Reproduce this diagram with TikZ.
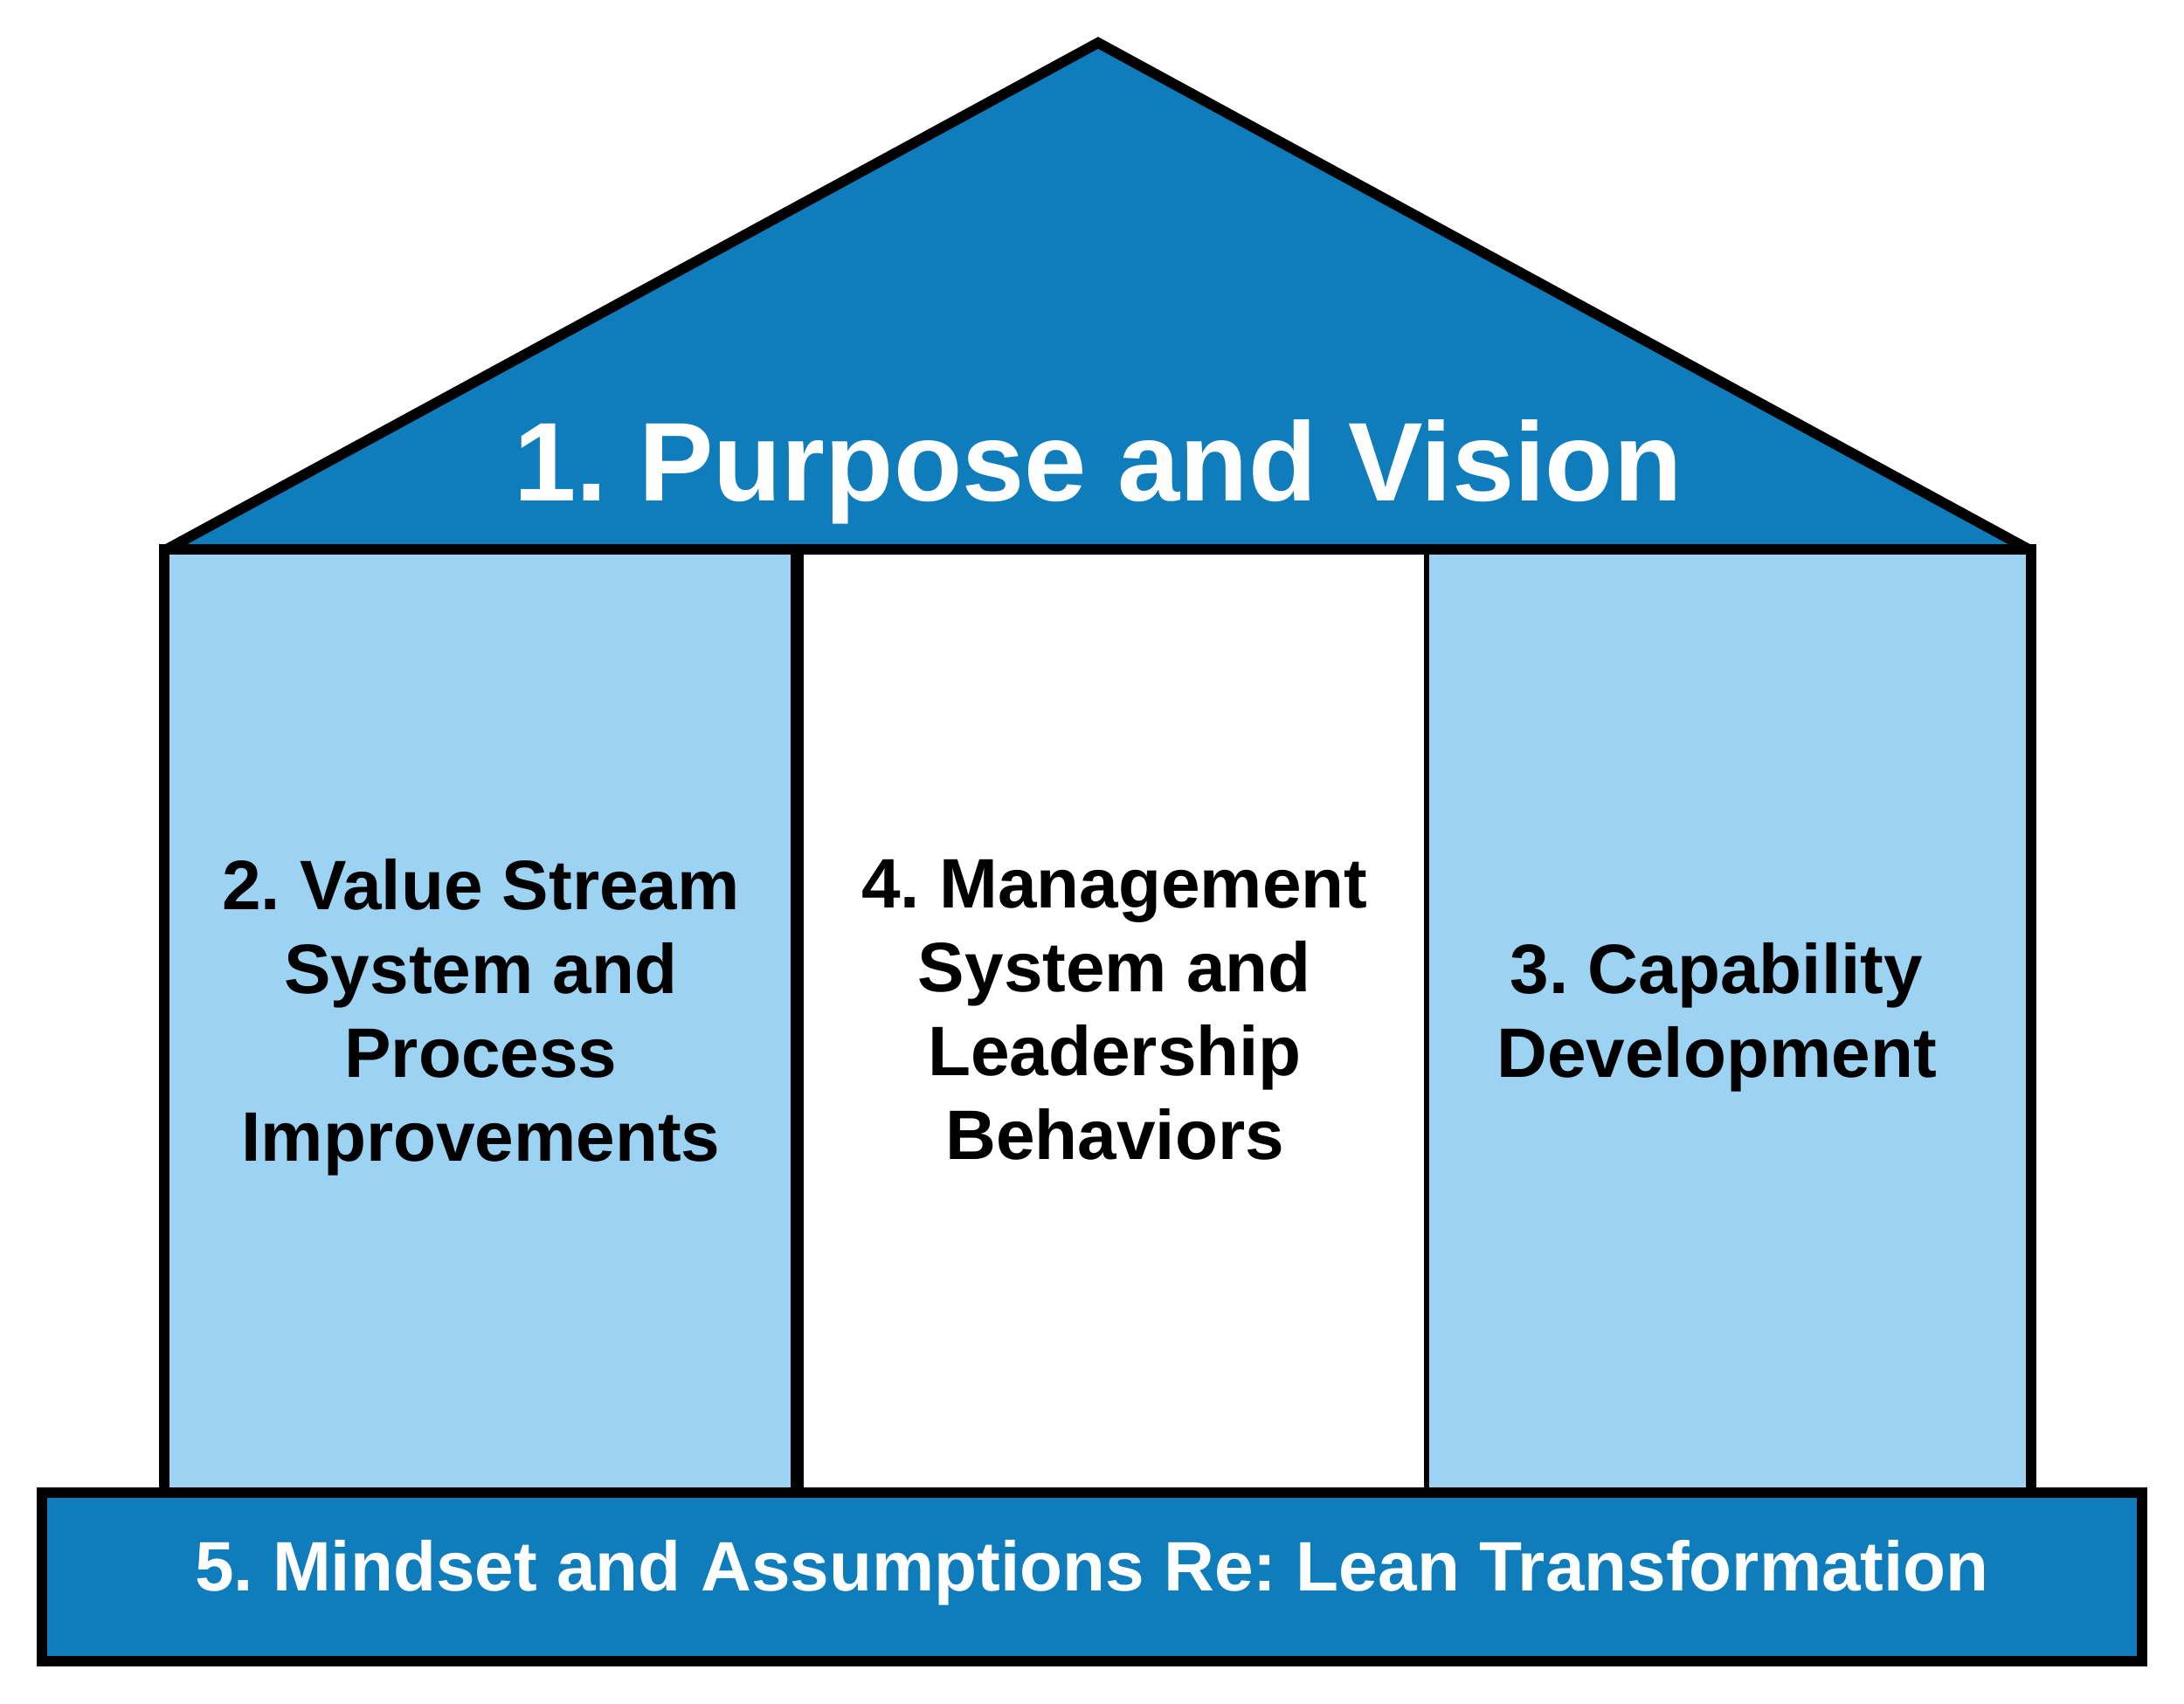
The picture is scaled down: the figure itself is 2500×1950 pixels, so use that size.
\documentclass[tikz,border=0pt]{standalone}
\usepackage{fontspec}
\setmainfont{Liberation Sans}
\usepackage{xcolor}
\definecolor{roofblue}{RGB}{15,124,187}
\definecolor{pillarblue}{RGB}{157,211,242}
\frenchspacing

\begin{document}
\begin{tikzpicture}[x=0.01cm,y=-0.01cm]
\useasboundingbox (0,0) rectangle (2500,1950);
\tikzstyle{thickline}=[line width=3.41pt,color=black]
\tikzstyle{pillar}=[fill=pillarblue,minimum height=10.79cm,inner sep=0pt]
\tikzstyle{pillartext}=[align=center,inner sep=0pt,font=\fontsize{22.8pt}{27.3pt}\selectfont\bfseries]

\coordinate (eaveL) at (189,630);
\coordinate (apex) at (1257,49);
\coordinate (eaveR) at (2324,630);
\fill[roofblue] (eaveL) -- (apex) -- (eaveR) -- cycle;
\draw[thickline] (eaveL) -- (apex) -- (eaveR);
\node[text=white,anchor=base,font=\fontsize{36.45pt}{43pt}\selectfont\bfseries] (p1) at (1257,573) {1. Purpose and Vision};

\node[pillar,minimum width=7.23cm] (p2) at (550.5,1169.5) {};
\node[pillar,fill=white,minimum width=7.22cm] (p4) at (1273,1169.5) {};
\node[pillar,minimum width=6.90cm] (p3) at (1979,1169.5) {};
\node[pillartext] (t2) at (550.5,1164.5) {2. Value Stream\\System and\\Process\\Improvements};
\node[pillartext] (t4) at (1276,1156.5) {4. Management\\System and\\Leadership\\Behaviors};
\node[pillartext] (t3) at (1965,1164.5) {3. Capability\\Development};

\draw[thickline] (p2.north west) rectangle (p3.south east);
\draw[line width=4.27pt] (p2.north east) to (p2.south east);
\draw[line width=1.71pt] (p3.north west) to (p3.south west);

\node[draw,thickline,fill=roofblue,minimum width=24.03cm,minimum height=1.925cm,inner sep=0pt] (p5) at (1250,1805.25) {};
\node[text=white,anchor=base,font=\fontsize{22.8pt}{27.3pt}\selectfont\bfseries] (t5) at (1250,1821) {5. Mindset and Assumptions Re: Lean Transformation};
\end{tikzpicture}
\end{document}
